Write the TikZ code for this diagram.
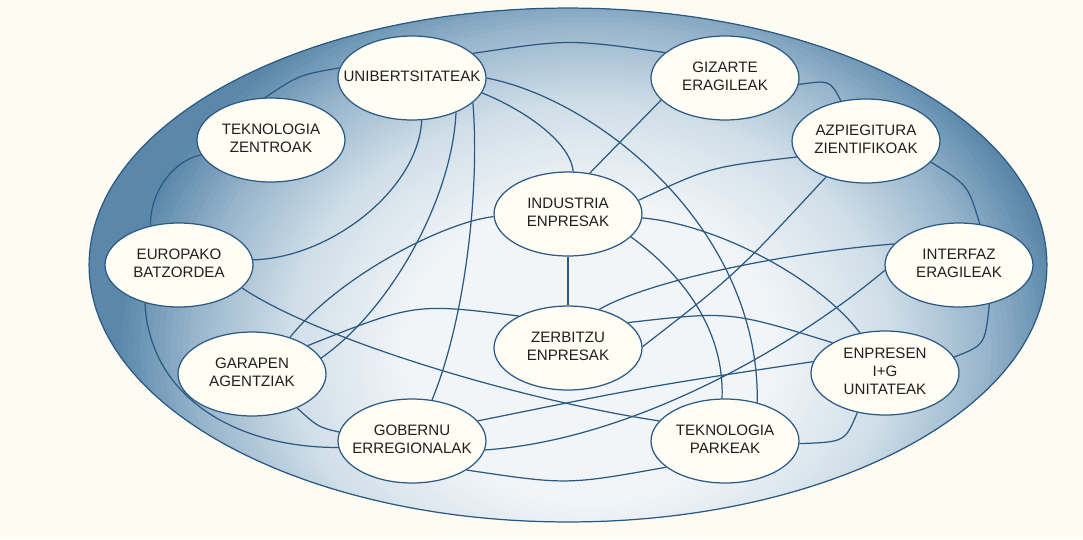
\documentclass[tikz,border=0pt]{standalone}
\usepackage{fontspec}
\setmainfont{Liberation Sans}
\usetikzlibrary{shapes.geometric}
\definecolor{bgc}{HTML}{FEFCF2}
\definecolor{lc}{HTML}{2A5A84}
\definecolor{nodef}{HTML}{FFFDF4}
\definecolor{cA}{HTML}{F1F5F8}
\definecolor{cB}{HTML}{D0DEE8}
\definecolor{cC}{HTML}{96B4CB}
\definecolor{cD}{HTML}{5A87AA}
\newcommand\lb[1]{\makebox[1cm]{\begin{tabular}{@{}c@{}}#1\end{tabular}}}
\begin{document}
\begin{tikzpicture}[x=0.02cm,y=-0.02cm,
  nd/.style={ellipse, draw=lc, line width=0.7pt, fill=nodef, minimum width=2.96cm, minimum height=1.68cm, inner sep=0pt, text=black!88, font={\fontsize{8.6pt}{10pt}\selectfont}},
  con/.style={draw=lc, line width=0.7pt}]
\useasboundingbox (0,0) rectangle (1083,539);
\fill[bgc] (0,0) rectangle (1083,539);
% shaded big ellipse (concentric fills)
\begin{scope}
\clip (568,265) ellipse [x radius=9.58cm, y radius=5.14cm];
\fill[cD] (0,0) rectangle (1083,539);
\foreach \i in {0,...,12}{
  \pgfmathsetmacro\rx{(0.97-0.15*\i/12)*9.78}
  \pgfmathsetmacro\ry{(0.97-0.15*\i/12)*8.0}
  \pgfmathsetmacro\p{100-100*\i/12}
  \fill[cD!\p!cC] (590,350) ellipse [x radius=\rx cm, y radius=\ry cm];
}
\foreach \i in {1,...,20}{
  \pgfmathsetmacro\rx{(0.82-0.20*\i/20)*9.78}
  \pgfmathsetmacro\ry{(0.82-0.20*\i/20)*8.0}
  \pgfmathsetmacro\p{100-100*\i/20}
  \fill[cC!\p!cB] (590,350) ellipse [x radius=\rx cm, y radius=\ry cm];
}
\foreach \i in {1,...,24}{
  \pgfmathsetmacro\rx{(0.62-0.24*\i/24)*9.78}
  \pgfmathsetmacro\ry{(0.62-0.24*\i/24)*8.0}
  \pgfmathsetmacro\p{100-100*\i/24}
  \fill[cB!\p!cA] (590,350) ellipse [x radius=\rx cm, y radius=\ry cm];
}
\end{scope}
\draw[con] (568,265) ellipse [x radius=9.58cm, y radius=5.14cm];

\node[nd] (U)  at (412,78)  {\lb{UNIBERTSITATEAK}};
\node[nd] (GZ) at (725,78)  {\lb{GIZARTE\\ERAGILEAK}};
\node[nd] (TZ) at (271,140) {\lb{TEKNOLOGIA\\ZENTROAK}};
\node[nd] (AZ) at (866,141) {\lb{AZPIEGITURA\\ZIENTIFIKOAK}};
\node[nd] (IE) at (568,214) {\lb{INDUSTRIA\\ENPRESAK}};
\node[nd] (EB) at (179,265) {\lb{EUROPAKO\\BATZORDEA}};
\node[nd] (IF) at (959,265) {\lb{INTERFAZ\\ERAGILEAK}};
\node[nd] (ZE) at (568,348) {\lb{ZERBITZU\\ENPRESAK}};
\node[nd] (G)  at (252,374) {\lb{GARAPEN\\AGENTZIAK}};
\node[nd] (EN) at (885,373) {\lb{ENPRESEN\\I+G\\UNITATEAK}};
\node[nd] (GO) at (412,441) {\lb{GOBERNU\\ERREGIONALAK}};
\node[nd] (TP) at (725,441) {\lb{TEKNOLOGIA\\PARKEAK}};

\draw[con] (TZ.98) .. controls (299,75) .. (U.172);
\draw[con] (U.22) .. controls (569,39) .. (GZ.157);
\draw[con] (U.0) .. controls (600,100) and (760,230) .. (TP.50);
\draw[con] (U.-12) .. controls (520,108) and (570,140) .. (IE.83);
\draw[con] (U.-77) .. controls (418,190) and (330,258) .. (EB.4);
\draw[con] (U.-38) .. controls (452,200) and (390,310) .. (G.13);
\draw[con] (U.-22) .. controls (480,190) and (465,320) .. (GO.64);
\draw[con] (GZ.199) -- (IE.62);
\draw[con] (GZ.-5) .. controls (830,80) .. (AZ.122);
\draw[con] (IE.11) .. controls (710,167) .. (AZ.193);
\draw[con] (ZE.1) .. controls (735,275) .. (AZ.222);
\draw[con] (AZ.-18) .. controls (968,185) .. (IF.63);
\draw[con] (IE.-3) .. controls (720,225) and (820,280) .. (EN.122);
\draw[con] (IE.-20) .. controls (670,265) and (725,320) .. (TP.94);
\draw[con] (IE.-90) -- (ZE.90);
\draw[con] (IE.182) .. controls (445,222) and (340,275) .. (G.44);
\draw[con] (EB.126) .. controls (150,190) and (175,160) .. (TZ.192);
\draw[con] (EB.-20) .. controls (320,340) and (520,400) .. (TP.163);
\draw[con] (EB.228) .. controls (150,400) and (240,448) .. (GO.185);
\draw[con] (G.27) .. controls (415,303) .. (ZE.147);
\draw[con] (G.-37) .. controls (318,427) .. (GO.173);
\draw[con] (GO.17) .. controls (650,386) .. (EN.171);
\draw[con] (GO.-7) .. controls (630,440) and (790,350) .. (IF.184);
\draw[con] (GO.-28) .. controls (567,485) .. (TP.204);
\draw[con] (ZE.23) .. controls (730,311) .. (EN.150);
\draw[con] (ZE.51) .. controls (650,280) and (790,252) .. (IF.162);
\draw[con] (TP.-2) .. controls (845,442) .. (EN.235);
\draw[con] (EN.13) .. controls (985,345) .. (IF.-52);
\end{tikzpicture}
\end{document}
